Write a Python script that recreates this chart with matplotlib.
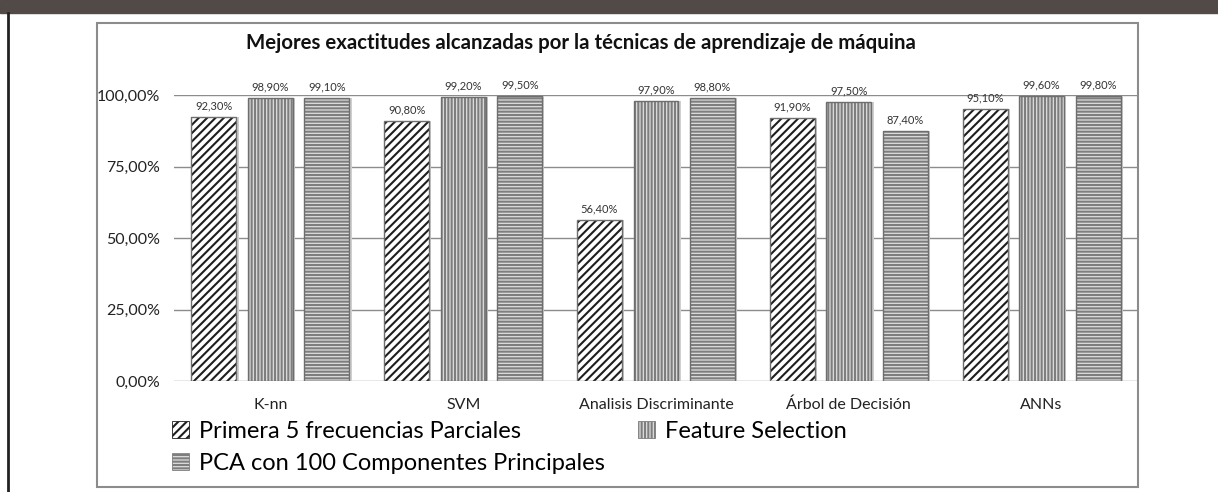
import numpy as np
import matplotlib.pyplot as plt
from matplotlib.patches import Rectangle
from matplotlib.lines import Line2D

# chart values (fractions of 1)
categories = ['K-nn', 'SVM', 'Analisis Discriminante', 'Árbol de Decisión', 'ANNs']
primera5 = [0.923, 0.908, 0.564, 0.919, 0.951]
feature_sel = [0.989, 0.992, 0.979, 0.975, 0.996]
pca100 = [0.991, 0.995, 0.988, 0.874, 0.998]
series_names = ['Primera 5 frecuencias Parciales', 'Feature Selection',
                'PCA con 100 Componentes Principales']
ytick_vals = [0, 0.25, 0.5, 0.75, 1.0]
ytick_labels = ['0,00%', '25,00%', '50,00%', '75,00%', '100,00%']

plt.rcParams['font.family'] = ['Lato', 'DejaVu Sans']
plt.rcParams['hatch.linewidth'] = 1.5

W, H = 1218, 492
fig = plt.figure(figsize=(W / 100, H / 100), dpi=100)

def fx(px):
    return px / W

def fy(py):
    return 1 - py / H

# dark header strip and left rule of the page
fig.patches.append(Rectangle((0, fy(13)), 1, 13 / H, transform=fig.transFigure,
                             color='#514a47', zorder=0))
fig.add_artist(Line2D([fx(8), fx(8)], [0, fy(13)], transform=fig.transFigure,
                      color='#222222', lw=2))
# chart frame
fig.patches.append(Rectangle((fx(97), fy(487)), (1138 - 97) / W, (487 - 23) / H,
                             transform=fig.transFigure, fill=False,
                             edgecolor='#8c8c8c', lw=1.5, zorder=1))

ax = fig.add_axes([fx(174), fy(381), (1138 - 174) / W, (381 - 95) / H])
ax.set_zorder(2)
ax.patch.set_alpha(0)

x = np.arange(len(categories))
bw = 0.233
step = 0.293
styles = [
    dict(face='white', hatch='////', hcol='#1e1e1e'),
    dict(face='#dedede', hatch='|||||', hcol='#7e7e7e'),
    dict(face='#dedede', hatch='-----', hcol='#7e7e7e'),
]
handles = []
for i, (vals, st) in enumerate(zip([primera5, feature_sel, pca100], styles)):
    xs = x + (i - 1) * step
    # soft shadow
    ax.bar(xs + 0.012, vals, bw, color='#cfcfcf', lw=0, zorder=2)
    ax.bar(xs, vals, bw, color=st['face'], hatch=st['hatch'],
           edgecolor=st['hcol'], lw=0, zorder=3)
    ax.bar(xs, vals, bw, fill=False, edgecolor='#6e6e6e', lw=1.0, zorder=4)
    for xi, v in zip(xs, vals):
        ax.annotate(f'{v * 100:.2f}%'.replace('.', ','), (xi, v),
                    xytext=(0, 4), textcoords='offset points',
                    ha='center', va='bottom', fontsize=8, color='#333333')
    handles.append(Rectangle((0, 0), 1, 1, facecolor=st['face'], hatch=st['hatch'],
                             edgecolor=st['hcol'], lw=0.6))

ax.set_xlim(-0.5, len(categories) - 0.5)
ax.set_ylim(0, 1.0)
ax.set_yticks(ytick_vals)
ax.set_yticklabels(ytick_labels, fontsize=11.5, color='#222222')
ax.set_xticks(x)
ax.set_xticklabels(categories, fontsize=11.5, color='#222222')
ax.tick_params(axis='both', length=0)
ax.tick_params(axis='y', pad=10)
ax.tick_params(axis='x', pad=12)
for y in ytick_vals:
    ax.axhline(y, color='#8c8c8c', lw=1, zorder=1)
for s in ax.spines.values():
    s.set_visible(False)

fig.text(fx(581), fy(43), 'Mejores exactitudes alcanzadas por la técnicas de aprendizaje de máquina',
         ha='center', va='center', fontsize=14.7, fontweight='bold', color='#111111')

order = [0, 2, 1]
fig.legend([handles[k] for k in order], [series_names[k] for k in order],
           ncol=2, loc='upper left', bbox_to_anchor=(fx(172), fy(421)),
           frameon=False, fontsize=17, handlelength=0.7, handleheight=0.7,
           handletextpad=0.45, columnspacing=1.4, labelspacing=0.46,
           borderaxespad=0, borderpad=0)

fig.savefig('out.png', dpi=100)
